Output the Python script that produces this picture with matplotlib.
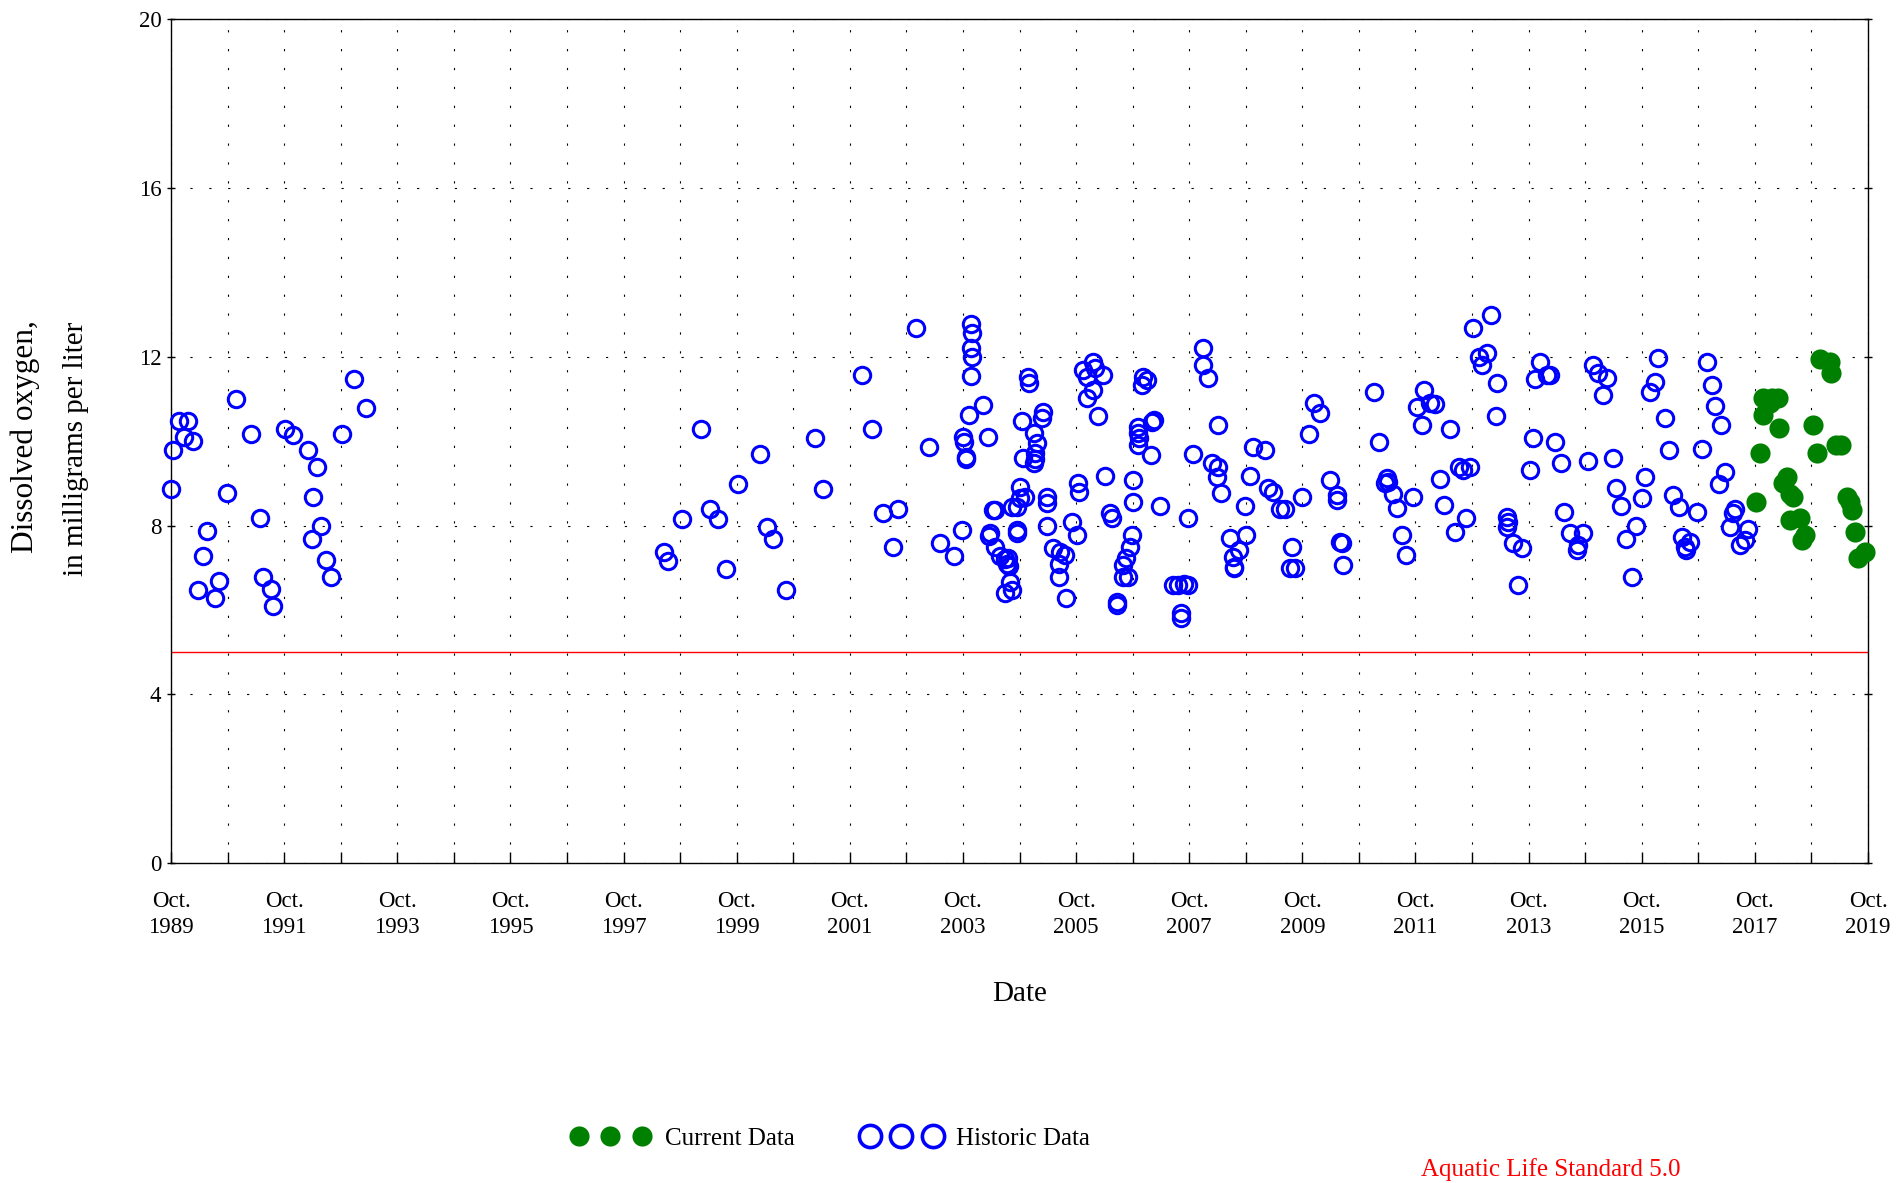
import numpy as np
import matplotlib
matplotlib.use("Agg")
import matplotlib.pyplot as plt
from matplotlib.lines import Line2D

plt.rcParams['font.family'] = ['Liberation Serif', 'DejaVu Serif']

# sample dates as decimal years (Oct. 1 = year + 0.75), dissolved oxygen in mg/L
hist_year = [
    1989.75, 1989.79, 1989.89, 1990.05, 1989.98, 1990.14, 1990.90, 1990.74, 1990.39, 1990.32,
    1990.23, 1990.59, 1990.53, 1991.17, 1991.33, 1991.38, 1991.52, 1991.56, 1991.76, 1991.90,
    1992.17, 1992.33, 1992.26, 1992.40, 1992.24, 1992.49, 1992.58, 1992.77, 1992.99, 1993.20,
    1998.79, 1998.46, 1998.54, 1999.12, 1999.28, 1999.42, 1999.56, 1999.77, 2000.16, 2000.28,
    2000.39, 2000.62, 2001.13, 2001.28, 2001.97, 2002.15, 2002.34, 2002.61, 2002.52, 2002.92,
    2003.15, 2003.35, 2003.60,
    2003.90, 2003.91, 2003.89, 2003.91, 2003.89, 2004.11, 2003.86, 2003.75, 2003.76, 2003.80,
    2003.81, 2004.20, 2003.74, 2004.28, 2004.31, 2004.21, 2004.22, 2004.32, 2004.41, 2004.50,
    2004.52, 2004.55, 2004.56, 2004.58, 2004.49, 2004.61, 2004.70, 2004.71, 2004.76, 2004.76,
    2004.85, 2004.61, 2004.70, 2004.79, 2004.90, 2004.91, 2004.82, 2005.00, 2005.17, 2005.14,
    2005.00, 2005.06, 2005.03, 2005.02, 2005.23, 2005.24, 2005.23, 2005.35, 2005.47, 2005.55,
    2005.44, 2005.44, 2005.58, 2005.67, 2005.77, 2005.79, 2005.80, 2006.26, 2006.05, 2006.08,
    2006.23, 2005.88, 2005.94, 2006.05, 2005.94, 2006.14, 2006.35, 2006.38, 2006.76, 2006.76,
    2006.73, 2006.70, 2006.64, 2006.58, 2006.58, 2006.67, 2006.47, 2006.48, 2006.94, 2007.00,
    2006.91, 2006.85, 2006.85, 2006.86, 2006.85, 2007.12, 2007.10, 2007.08, 2007.24, 2007.47,
    2007.56, 2007.65, 2007.73, 2007.60, 2007.61, 2007.73, 2007.82, 2007.99, 2008.00, 2008.09,
    2008.26, 2008.15, 2008.26, 2008.24, 2008.32, 2008.47, 2008.53, 2008.54,
    2008.76, 2008.63, 2008.55, 2008.74, 2008.82, 2008.87, 2009.09, 2009.15, 2009.24, 2009.35,
    2009.44, 2009.74, 2009.56, 2009.53, 2009.62, 2009.86, 2009.96, 2010.06, 2010.24, 2010.36,
    2010.37, 2010.42, 2010.45, 2010.47, 2011.02, 2011.11, 2011.24, 2011.21, 2011.36, 2011.42,
    2011.27, 2011.52, 2011.58, 2011.70, 2011.90, 2011.77, 2012.01, 2012.10, 2011.86, 2012.36,
    2012.19, 2012.26, 2012.52, 2012.59, 2012.71, 2012.45, 2012.64, 2012.77, 2013.08, 2012.88,
    2013.02, 2012.92, 2013.20, 2013.17, 2013.36, 2013.37, 2013.39, 2013.48, 2013.63, 2013.57,
    2013.77, 2013.83, 2013.95, 2013.86,
    2014.07, 2014.13, 2014.22, 2014.33, 2014.37, 2014.48, 2014.72, 2014.63, 2014.60, 2014.80,
    2014.89, 2014.98, 2015.13, 2015.06, 2015.24, 2015.29, 2015.39, 2015.81, 2015.75, 2015.65,
    2015.48, 2015.58, 2016.04, 2015.98, 2015.89, 2016.16, 2016.23, 2016.31, 2016.41, 2016.72,
    2016.47, 2016.60, 2016.51, 2016.54, 2016.91, 2017.00, 2017.04, 2017.15, 2016.82, 2017.22,
    2017.11, 2017.40, 2017.37, 2017.31, 2017.63, 2017.57, 2017.49,
]
hist_do = [
    8.87, 9.78, 10.49, 10.49, 10.09, 10.00, 10.99, 8.78, 7.87, 7.28,
    6.47, 6.69, 6.28, 10.17, 8.18, 6.78, 6.49, 6.09, 10.30, 10.15,
    9.78, 9.40, 8.68, 8.00, 7.67, 7.18, 6.78, 10.17, 11.48, 10.78,
    8.16, 7.38, 7.16, 10.30, 8.39, 8.16, 6.98, 8.99, 9.69, 7.97,
    7.68, 6.47, 10.08, 8.86, 11.56, 10.30, 8.29, 8.39, 7.48, 12.68,
    9.87, 7.59, 7.29,
    12.79, 12.56, 12.20, 12.00, 11.55, 10.87, 10.61, 10.11, 9.99, 9.63,
    9.57, 10.09, 7.89, 8.38, 8.38, 7.75, 7.83, 7.50, 7.27, 7.20,
    7.10, 7.24, 7.05, 6.67, 6.39, 6.47, 7.89, 7.82, 8.92, 8.65,
    8.68, 8.45, 8.45, 10.49, 11.53, 11.37, 9.59, 9.48, 10.70, 10.54,
    10.19, 9.96, 9.72, 9.58, 8.68, 8.53, 7.99, 7.46, 7.38, 7.30,
    7.10, 6.79, 6.29, 8.09, 7.78, 9.00, 8.80, 9.17, 11.88, 11.73,
    11.57, 11.69, 11.53, 11.21, 11.02, 10.60, 8.29, 8.17, 9.08, 8.57,
    7.78, 7.50, 7.22, 7.06, 6.79, 6.79, 6.19, 6.12, 11.53, 11.45,
    11.33, 10.34, 10.19, 10.07, 9.91, 10.50, 10.46, 9.67, 8.47, 6.59,
    6.59, 6.62, 6.59, 5.92, 5.80, 8.19, 9.70, 12.20, 11.81, 11.49,
    10.38, 9.48, 9.40, 9.16, 8.78, 7.70, 7.26, 7.02,
    7.78, 7.42, 6.99, 8.47, 9.17, 9.87, 9.78, 8.88, 8.80, 8.39,
    8.39, 8.68, 7.48, 6.99, 6.99, 10.17, 10.90, 10.68, 9.08, 8.72,
    8.61, 7.62, 7.59, 7.06, 11.17, 9.99, 9.12, 9.00, 8.76, 8.41,
    9.04, 7.78, 7.30, 8.68, 11.21, 10.82, 10.90, 10.88, 10.38, 10.30,
    9.10, 8.49, 9.40, 9.32, 9.40, 7.85, 8.17, 12.69, 12.99, 12.00,
    12.10, 11.81, 11.39, 10.60, 8.21, 7.97, 8.09, 7.58, 7.46, 6.59,
    9.32, 10.07, 11.88, 11.47,
    11.57, 11.57, 9.99, 9.48, 8.33, 7.82, 7.82, 7.54, 7.42, 9.53,
    11.81, 11.61, 11.49, 11.10, 9.59, 8.88, 8.46, 9.16, 8.65, 7.99,
    7.67, 6.79, 11.97, 11.41, 11.17, 10.54, 9.79, 8.72, 8.45, 8.33,
    7.74, 7.62, 7.50, 7.42, 11.88, 11.33, 10.83, 10.38, 9.81, 9.28,
    8.99, 8.39, 8.29, 7.97, 7.91, 7.66, 7.54,
]

cur_year = [
    2017.90, 2018.05, 2018.16, 2018.02, 2017.90, 2018.18, 2017.84, 2017.77, 2018.31, 2018.25,
    2018.43, 2018.37, 2018.55, 2018.37, 2018.63, 2018.58, 2018.77, 2018.84, 2018.90, 2019.08,
    2019.09, 2019.19, 2019.28, 2019.37, 2019.43, 2019.46, 2019.52, 2019.70, 2019.58,
]
cur_do = [
    11.02, 11.02, 11.02, 10.90, 10.62, 10.32, 9.71, 8.57, 9.16, 9.00,
    8.68, 8.76, 8.17, 8.13, 7.78, 7.66, 10.38, 9.71, 11.94, 11.88,
    11.61, 9.91, 9.91, 8.68, 8.57, 8.37, 7.84, 7.38, 7.22,
]

standard = 5.0
tick_years = list(range(1989, 2020, 2))
minor_years = list(range(1989, 2020))

fig = plt.figure(figsize=(18.98, 11.83), dpi=100)
ax = fig.add_axes([0.0901, 0.2705, 0.8941, 0.7131])

dots = (0, (2, 15))
ax.grid(True, axis='x', which='both', color='black', linestyle=dots, linewidth=0.8)
ax.grid(True, axis='y', which='major', color='black', linestyle=dots, linewidth=0.8)
ax.set_axisbelow(True)

ax.axhline(standard, color='red', linewidth=1.0, zorder=2)

ax.plot(hist_year, hist_do, ls='none', marker='o', ms=11.8, mfc='none',
        mec='#0000ff', mew=2.2, clip_on=False, zorder=3)
ax.plot(cur_year, cur_do, ls='none', marker='o', ms=14.5, mfc='#008000',
        mec='#008000', mew=0, clip_on=False, zorder=4)

ax.set_xlim(1989.75, 2019.75)
ax.set_ylim(0, 20)
ax.set_xticks([y + 0.75 for y in tick_years])
ax.set_xticklabels(['Oct.\n%d' % y for y in tick_years])
ax.set_xticks([y + 0.75 for y in minor_years], minor=True)
ax.set_yticks([0, 4, 8, 12, 16, 20])

ax.tick_params(axis='x', which='both', direction='in', length=8, width=1, pad=20,
               labelsize=16.5, top=False)
ax.tick_params(axis='y', which='major', direction='inout', length=6, width=1, pad=4,
               labelsize=16.5, right=True)
for lbl in ax.get_xticklabels():
    lbl.set_linespacing(1.3)
for sp in ax.spines.values():
    sp.set_linewidth(1.0)

fig.text(0.5371, 0.1597, 'Date', ha='center', va='center', fontsize=21)
# y label: two lines
fig.text(0.0135, 0.6306, 'Dissolved oxygen,', rotation=90,
         ha='center', va='center', fontsize=22.5)
fig.text(0.0403, 0.6205, 'in milligrams per liter', rotation=90,
         ha='center', va='center', fontsize=21)

handles = [
    Line2D([], [], ls='none', marker='o', ms=14.5, mfc='#008000', mec='#008000', mew=0),
    Line2D([], [], ls='none', marker='o', ms=16, mfc='none', mec='#0000ff', mew=2.6),
]
fig.legend(handles, ['Current Data', 'Historic Data'], loc='center left',
           bbox_to_anchor=(0.3011, 0.0376), ncol=2, numpoints=3, frameon=False,
           fontsize=18, handlelength=3.12, handletextpad=0.62, columnspacing=2.7,
           borderpad=0, borderaxespad=0)

fig.text(0.8173, 0.0114, 'Aquatic Life Standard %.1f' % standard, color='red',
         ha='center', va='center', fontsize=18)

fig.savefig('out.png', dpi=100)
